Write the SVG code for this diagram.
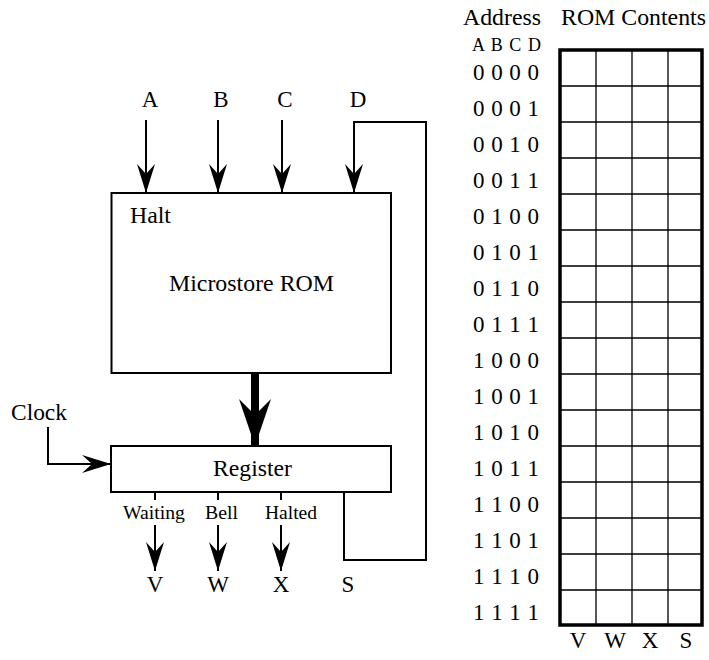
<svg xmlns="http://www.w3.org/2000/svg" width="709" height="660" viewBox="0 0 709 660">
<style>
text{font-family:"Liberation Serif","Times New Roman",serif;fill:#000}
.t{font-size:23px}
.s{font-size:18px}
.ln{fill:none;stroke:#000;stroke-width:2}
.box{fill:#fff;stroke:#000;stroke-width:2}
.grid{stroke:#000;stroke-width:1.3;fill:none}
</style>
<defs>
<marker id="ah" markerUnits="userSpaceOnUse" viewBox="0 0 30 20" markerWidth="30" markerHeight="20" refX="29" refY="10" orient="auto">
<path d="M0,1 L29,10 L0,19 L10,10 Z" fill="#000"/>
</marker>
<marker id="ahb" markerUnits="userSpaceOnUse" viewBox="0 0 48 34" markerWidth="48" markerHeight="34" refX="47" refY="17" orient="auto">
<path d="M0,1 L47,17 L0,33 L16,17 Z" fill="#000"/>
</marker>
</defs>
<g id="connectors">
<line class="ln" x1="146" y1="120" x2="146" y2="193" marker-end="url(#ah)"/>
<line class="ln" x1="218" y1="120" x2="218" y2="193" marker-end="url(#ah)"/>
<line class="ln" x1="282" y1="120" x2="282" y2="193" marker-end="url(#ah)"/>
<path class="ln" d="M344,492 V560 H426 V122 H354 V193" marker-end="url(#ah)"/>
<line x1="255" y1="373" x2="255" y2="446" stroke="#000" stroke-width="8" marker-end="url(#ahb)"/>
<path class="ln" d="M48,427 V464 H111" marker-end="url(#ah)"/>
<line class="ln" x1="155" y1="492" x2="155" y2="500"/>
<line class="ln" x1="218" y1="492" x2="218" y2="500"/>
<line class="ln" x1="281" y1="492" x2="281" y2="500"/>
<line class="ln" x1="155" y1="525" x2="155" y2="571" marker-end="url(#ah)"/>
<line class="ln" x1="218" y1="525" x2="218" y2="571" marker-end="url(#ah)"/>
<line class="ln" x1="281" y1="525" x2="281" y2="571" marker-end="url(#ah)"/>
</g>
<g id="rom">
<rect class="box" x="111.5" y="193" width="279.5" height="180"/>
<text class="t" x="130" y="223" textLength="41" lengthAdjust="spacingAndGlyphs">Halt</text>
<text class="t" x="169" y="291" textLength="165" lengthAdjust="spacingAndGlyphs">Microstore ROM</text>
</g>
<g id="register">
<rect class="box" x="111" y="446" width="280" height="46"/>
<text class="t" x="213" y="476" textLength="79" lengthAdjust="spacingAndGlyphs">Register</text>
</g>
<g id="labels">
<text class="t" x="150" y="107" text-anchor="middle">A</text>
<text class="t" x="221" y="107" text-anchor="middle">B</text>
<text class="t" x="285" y="107" text-anchor="middle">C</text>
<text class="t" x="358" y="107" text-anchor="middle">D</text>
<text class="t" x="11" y="420" textLength="56" lengthAdjust="spacingAndGlyphs">Clock</text>
<text class="s" x="123" y="519" textLength="62" lengthAdjust="spacingAndGlyphs">Waiting</text>
<text class="s" x="205" y="519" textLength="33" lengthAdjust="spacingAndGlyphs">Bell</text>
<text class="s" x="265" y="519" textLength="52" lengthAdjust="spacingAndGlyphs">Halted</text>
<text class="t" x="155" y="592" text-anchor="middle">V</text>
<text class="t" x="218" y="592" text-anchor="middle">W</text>
<text class="t" x="281" y="592" text-anchor="middle">X</text>
<text class="t" x="348" y="592" text-anchor="middle">S</text>
</g>
<g id="table">
<text class="t" x="463" y="25" textLength="78" lengthAdjust="spacingAndGlyphs">Address</text>
<text class="t" x="561" y="25" textLength="145" lengthAdjust="spacingAndGlyphs">ROM Contents</text>
<text class="s" x="472" y="51" textLength="69" lengthAdjust="spacing">A B C D</text>
<g class="grid">
<path d="M596,50V625M632,50V625M668,50V625"/>
<path d="M560,86H702M560,122H702M560,158H702M560,194H702M560,230H702M560,266H702M560,302H702M560,338H702M560,374H702M560,410H702M560,446H702M560,482H702M560,518H702M560,554H702M560,590H702"/>
</g>
<rect x="560" y="50" width="142" height="575" fill="none" stroke="#000" stroke-width="3.5"/>
<g class="t">
<text x="473" y="80" textLength="66">0 0 0 0</text>
<text x="473" y="116" textLength="66">0 0 0 1</text>
<text x="473" y="152" textLength="66">0 0 1 0</text>
<text x="473" y="188" textLength="66">0 0 1 1</text>
<text x="473" y="224" textLength="66">0 1 0 0</text>
<text x="473" y="260" textLength="66">0 1 0 1</text>
<text x="473" y="296" textLength="66">0 1 1 0</text>
<text x="473" y="332" textLength="66">0 1 1 1</text>
<text x="473" y="368" textLength="66">1 0 0 0</text>
<text x="473" y="404" textLength="66">1 0 0 1</text>
<text x="473" y="440" textLength="66">1 0 1 0</text>
<text x="473" y="476" textLength="66">1 0 1 1</text>
<text x="473" y="512" textLength="66">1 1 0 0</text>
<text x="473" y="548" textLength="66">1 1 0 1</text>
<text x="473" y="584" textLength="66">1 1 1 0</text>
<text x="473" y="620" textLength="66">1 1 1 1</text>
</g>
<text class="t" x="578" y="648" text-anchor="middle">V</text>
<text class="t" x="615" y="648" text-anchor="middle">W</text>
<text class="t" x="650" y="648" text-anchor="middle">X</text>
<text class="t" x="686" y="648" text-anchor="middle">S</text>
</g>
</svg>
